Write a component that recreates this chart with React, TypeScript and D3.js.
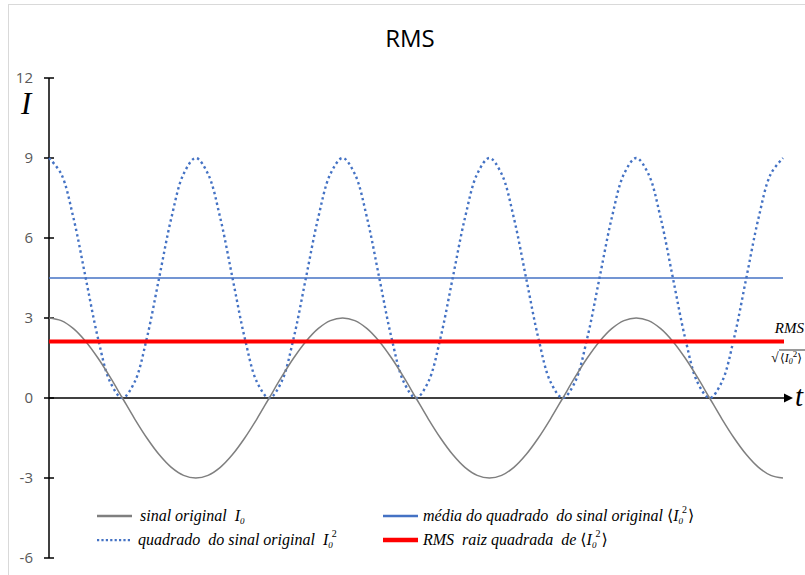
import React from "react";
import * as d3 from "d3";

// Phase samples (degrees), 15° apart over two and a half periods
const T_DEG = [
  0, 15, 30, 45, 60, 75, 90, 105, 120, 135, 150, 165, 180, 195, 210, 225, 240, 255, 270, 285,
  300, 315, 330, 345, 360, 375, 390, 405, 420, 435, 450, 465, 480, 495, 510, 525, 540, 555,
  570, 585, 600, 615, 630, 645, 660, 675, 690, 705, 720, 735, 750, 765, 780, 795, 810, 825,
  840, 855, 870, 885, 900,
];

// Original signal I0
const SIGNAL = [
  3, 2.9, 2.6, 2.12, 1.5, 0.78, 0, -0.78, -1.5, -2.12, -2.6, -2.9,
  -3, -2.9, -2.6, -2.12, -1.5, -0.78, 0, 0.78, 1.5, 2.12, 2.6, 2.9,
  3, 2.9, 2.6, 2.12, 1.5, 0.78, 0, -0.78, -1.5, -2.12, -2.6, -2.9,
  -3, -2.9, -2.6, -2.12, -1.5, -0.78, 0, 0.78, 1.5, 2.12, 2.6, 2.9,
  3, 2.9, 2.6, 2.12, 1.5, 0.78, 0, -0.78, -1.5, -2.12, -2.6, -2.9, -3,
];

// Squared signal I0²
const SQUARED = [
  9, 8.4, 6.75, 4.5, 2.25, 0.6, 0, 0.6, 2.25, 4.5, 6.75, 8.4,
  9, 8.4, 6.75, 4.5, 2.25, 0.6, 0, 0.6, 2.25, 4.5, 6.75, 8.4,
  9, 8.4, 6.75, 4.5, 2.25, 0.6, 0, 0.6, 2.25, 4.5, 6.75, 8.4,
  9, 8.4, 6.75, 4.5, 2.25, 0.6, 0, 0.6, 2.25, 4.5, 6.75, 8.4,
  9, 8.4, 6.75, 4.5, 2.25, 0.6, 0, 0.6, 2.25, 4.5, 6.75, 8.4, 9,
];

const MEAN_SQUARE = 4.5;
const RMS_VALUE = 2.12;

const Y_TICKS = [-6, -3, 0, 3, 6, 9, 12];

const SERIF = "'Liberation Serif', 'DejaVu Serif', serif";
const SANS = "'Open Sans', 'Noto Sans', sans-serif";

export default function App() {
  const W = 805;
  const H = 575;
  const x = d3.scaleLinear().domain([0, 900]).range([49, 783]);
  const y = d3.scaleLinear().domain([-6, 12]).range([558, 78]);

  const pts = (vals: number[]) => T_DEG.map((t, i) => [t, vals[i]] as [number, number]);
  const line = d3
    .line<[number, number]>()
    .x((d) => x(d[0]))
    .y((d) => y(d[1]))
    .curve(d3.curveCatmullRom.alpha(0.5));

  const x0 = x(0);
  const xEnd = x(900);
  const yZero = y(0);
  const axisEnd = 793;

  const legendText = {
    fontFamily: SERIF,
    fontStyle: "italic",
    fontSize: 16,
    fill: "#000",
    whiteSpace: "pre" as const,
  };

  // I with subscript 0 and an optional superscript 2 set above the subscript
  const I0 = (sup: boolean) => (
    <>
      <tspan>I</tspan>
      <tspan fontSize={9} dy={3}>0</tspan>
      {sup ? (
        <tspan fontSize={10} dy={-11} dx={-1} fontStyle="normal">2</tspan>
      ) : null}
    </>
  );

  return (
    <svg
      width={W}
      height={H}
      style={{ position: "absolute", left: 0, top: 0, background: "#fff" }}
    >
      <rect x={8.5} y={4.5} width={830} height={620} fill="#fff" stroke="#d9d9d9" strokeWidth={1} />

      <text x={410} y={47} textAnchor="middle" fontFamily={SANS} fontSize={24} fill="#000">
        RMS
      </text>

      {/* y axis with cross ticks */}
      <line x1={x0} x2={x0} y1={y(12)} y2={y(-6)} stroke="#000" strokeWidth={1.5} />
      {Y_TICKS.map((v) => (
        <g key={v}>
          <line x1={x0 - 5} x2={x0 + 5} y1={y(v)} y2={y(v)} stroke="#000" strokeWidth={1.5} />
          <text
            x={33}
            y={y(v)}
            dy="0.35em"
            textAnchor="end"
            fontFamily={SANS}
            fontSize={15}
            fill="#595959"
          >
            {v}
          </text>
        </g>
      ))}

      {/* x axis with arrow head */}
      <line x1={x0} x2={axisEnd - 6} y1={yZero} y2={yZero} stroke="#000" strokeWidth={1.5} />
      <path
        d={`M${axisEnd},${yZero} L${axisEnd - 9},${yZero - 4.5} L${axisEnd - 9},${yZero + 4.5} Z`}
        fill="#000"
      />

      <text x={21} y={114} fontFamily={SERIF} fontStyle="italic" fontSize={31} fill="#000">
        I
      </text>
      <text x={795} y={406} fontFamily={SERIF} fontStyle="italic" fontSize={29} fill="#000">
        t
      </text>

      {/* mean of the square */}
      <line x1={x0} x2={xEnd} y1={y(MEAN_SQUARE)} y2={y(MEAN_SQUARE)} stroke="#4472C4" strokeWidth={1.5} />

      {/* squared signal */}
      <path
        d={line(pts(SQUARED)) || ""}
        fill="none"
        stroke="#4472C4"
        strokeWidth={2.4}
        strokeDasharray="2.4 3.1"
      />

      {/* original signal */}
      <path d={line(pts(SIGNAL)) || ""} fill="none" stroke="#7f7f7f" strokeWidth={1.5} />

      {/* RMS level */}
      <line x1={x0} x2={xEnd + 1} y1={y(RMS_VALUE)} y2={y(RMS_VALUE)} stroke="#ff0000" strokeWidth={4} />

      <text x={804} y={333} textAnchor="end" fontFamily={SERIF} fontStyle="italic" fontSize={15} fill="#000">
        RMS
      </text>
      <g fontFamily={SERIF} fontSize={12} fill="#000">
        <text x={771} y={362} fontStyle="normal" fontSize={14}>√</text>
        <line x1={779} x2={806} y1={350} y2={350} stroke="#000" strokeWidth={0.8} />
        <text x={780} y={362} fontStyle="italic" style={{ whiteSpace: "pre" }}>
          <tspan fontStyle="normal">⟨</tspan>
          <tspan>I</tspan>
          <tspan fontSize={8} dy={2}>0</tspan>
          <tspan fontSize={9} dy={-7} fontStyle="normal">2</tspan>
          <tspan dy={5} fontStyle="normal">⟩</tspan>
        </text>
      </g>

      {/* legend */}
      <line x1={97} x2={132} y1={516} y2={516} stroke="#7f7f7f" strokeWidth={2.5} />
      <text x={140} y={521} style={legendText}>
        {"sinal original  "}
        {I0(false)}
      </text>

      <line x1={97} x2={132} y1={540} y2={540} stroke="#4472C4" strokeWidth={2.25} strokeDasharray="2.2 2.2" />
      <text x={138} y={545} style={legendText}>
        {"quadrado  do sinal original  "}
        {I0(true)}
      </text>

      <line x1={383} x2={418} y1={516} y2={516} stroke="#4472C4" strokeWidth={2.5} />
      <text x={423} y={521} style={legendText}>
        {"média do quadrado  do sinal original "}
        <tspan fontStyle="normal">⟨</tspan>
        {I0(true)}
        <tspan dy={8} dx={1} fontStyle="normal">⟩</tspan>
      </text>

      <line x1={383} x2={418} y1={540} y2={540} stroke="#ff0000" strokeWidth={4.5} />
      <text x={423} y={545} style={legendText}>
        {"RMS  raiz quadrada  de "}
        <tspan fontStyle="normal">⟨</tspan>
        {I0(true)}
        <tspan dy={8} dx={1} fontStyle="normal">⟩</tspan>
      </text>
    </svg>
  );
}
